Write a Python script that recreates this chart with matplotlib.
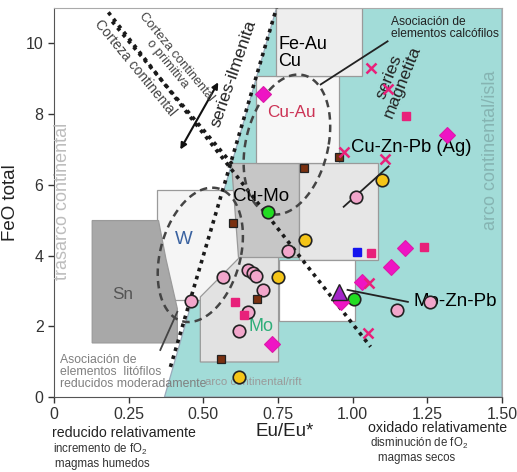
import numpy as np
import matplotlib
matplotlib.use("Agg")
import matplotlib.pyplot as plt
from matplotlib import font_manager
from matplotlib.patches import Polygon

plt.rcParams['font.family'] = ['Liberation Sans', 'DejaVu Sans']
plt.rcParams['mathtext.default'] = 'regular'

names = {f.name for f in font_manager.fontManager.ttflist}
NARROW = 'Liberation Sans Narrow' in names
narrow_fam = ['Liberation Sans Narrow', 'Liberation Sans'] if NARROW else ['Liberation Sans']
nscale = 1.0 if NARROW else 0.82

# --- samples (Eu/Eu*, FeO total) ---
pink_x = [0.46, 0.565, 0.65, 0.665, 0.675, 0.70, 0.65, 0.62, 0.785, 1.01, 1.15, 1.26]
pink_y = [2.72, 3.38, 3.58, 3.50, 3.42, 3.03, 2.41, 1.87, 4.12, 5.65, 2.46, 2.69]
yellow_x = [0.62, 0.75, 0.84, 1.10]
yellow_y = [0.57, 3.40, 4.45, 6.15]
green_x = [0.715, 1.003]
green_y = [5.22, 2.78]
diamond_x = [0.70, 1.315, 1.175, 1.13, 1.03, 0.96, 0.73]
diamond_y = [8.58, 7.42, 4.22, 3.68, 3.26, 2.69, 1.50]
tri_x = [0.955]
tri_y = [2.97]
psq_x = [1.18, 1.24, 1.06, 0.607, 0.635]
psq_y = [7.96, 4.25, 4.08, 2.69, 2.32]
blue_x = [1.013]
blue_y = [4.11]
brown_x = [0.836, 0.953, 0.60, 0.68, 0.56]
brown_y = [6.49, 6.78, 4.93, 2.78, 1.08]
cross_x = [1.06, 1.12, 0.97, 1.11, 1.055, 1.05]
cross_y = [9.30, 8.70, 6.93, 6.73, 3.22, 1.82]

# --- fields of the diagram ---
teal_field = [(0.37, 0), (0.745, 11), (1.5, 11), (1.5, 0)]
w_field = [(0.346, 2.75), (0.346, 5.86), (0.62, 5.86), (0.62, 2.75)]
sn_field = [(0.128, 1.53), (0.128, 4.99), (0.35, 4.99), (0.375, 3.9), (0.413, 2.5), (0.413, 1.53)]
mo_field = [(0.49, 0.99), (0.49, 2.83), (0.624, 3.97), (0.752, 3.97), (0.752, 0.99)]
cumo_field = [(0.594, 6.63), (0.819, 6.63), (0.819, 3.97), (0.617, 3.97)]
cuzn_field = [(0.819, 3.88), (0.819, 6.63), (1.084, 6.63), (1.084, 3.88)]
white_field = [(0.755, 2.15), (0.755, 3.88), (1.007, 3.88), (1.007, 2.15)]
cuau_field = [(0.678, 6.63), (0.678, 9.07), (0.953, 9.07), (0.953, 6.63)]
feau_field = [(0.745, 9.07), (0.745, 11.0), (1.03, 11.0), (1.03, 9.07)]

fig = plt.figure(figsize=(5.17, 4.72), dpi=100)
ax = fig.add_axes([0.1044, 0.1589, 0.8665, 0.824])
ax.set_xlim(0, 1.5)
ax.set_ylim(0, 11)

def field(pts, fc, ec='#9a9a9a', z=1):
    ax.add_patch(Polygon(pts, closed=True, facecolor=fc, edgecolor=ec, lw=0.9, zorder=z))

field(teal_field, '#a2dcd8', ec='#9ab', z=0.5)
field(w_field, '#f5f5f5')
field(sn_field, '#a8a8a8')
field(mo_field, '#e2e2e2')
field(cumo_field, '#c6c6c6')
field(cuzn_field, '#e6e6e6')
field(white_field, '#ffffff')
field(cuau_field, '#f7f7f7')
field(feau_field, '#eeeeee')

# dotted trend lines
dot = dict(color='#1a1a1a', lw=2.6, ls=(0, (1, 1.3)), zorder=3)
ax.plot([0.39, 0.745], [0.85, 11.0], **dot)
ax.plot([0.182, 1.06], [10.88, 1.42], **dot)
ax.plot([0.195, 0.6], [10.62, 6.55], **dot)

# dashed ellipses
t = np.linspace(0, 2 * np.pi, 200)
def ellipse(cx, cy, rx, ry, k):
    yy = cy + ry * np.sin(t)
    xx = cx + rx * np.cos(t) + k * (yy - cy)
    ax.plot(xx, yy, color='#444444', lw=1.8, ls=(0, (3, 2)), zorder=3)

ellipse(0.49, 4.02, 0.137, 1.9, 0.021)
ellipse(0.78, 7.14, 0.14, 1.98, 0.019)

# leader lines
ax.plot([1.117, 0.893], [10.06, 8.84], color='#222', lw=1.3, zorder=4)
ax.plot([1.185, 0.983], [2.69, 3.03], color='#222', lw=1.3, zorder=4)
ax.plot([0.97, 1.12], [5.38, 6.52], color='#222', lw=1.3, zorder=4)
ax.plot([0.356, 0.413], [1.33, 2.41], color='#444', lw=1.3, zorder=4)

ax.annotate('', xy=(0.55, 8.9), xytext=(0.423, 7.0),
            arrowprops=dict(arrowstyle='<|-|>', color='#111', lw=1.5,
                            mutation_scale=9, shrinkA=0, shrinkB=0), zorder=4)

# texts
ax.text(0.60, 5.67, 'Cu-Mo', fontsize=13.5, va='center', zorder=4)
ax.text(0.715, 8.05, 'Cu-Au', fontsize=12.3, color='#cc3355', va='center', zorder=4)
ax.text(0.752, 9.73, 'Fe-Au\nCu', fontsize=13, va='center', linespacing=1.0, zorder=4)
ax.text(0.651, 1.98, 'Mo', fontsize=13, color='#2fae7a', va='center', zorder=4)
ax.text(0.406, 4.45, 'W', fontsize=13.5, color='#3a62a0', va='center', zorder=4)
ax.text(0.195, 2.89, 'Sn', fontsize=12.3, color='#555555', va='center', zorder=4)
ax.text(0.993, 7.05, 'Cu-Zn-Pb (Ag)', fontsize=13.3, va='center', zorder=4)
ax.text(1.205, 2.69, 'Mo-Zn-Pb', fontsize=13.5, va='center', zorder=4)

ax.text(1.128, 10.44, 'Asociación de\nelementos calcófilos', fontsize=10.5 * nscale,
        family=narrow_fam, va='center', linespacing=1.05, color='#222', zorder=4)
ax.text(0.02, 0.71, 'Asociación de\nelementos  litófilos\nreducidos moderadamente',
        fontsize=10.8 * nscale, family=narrow_fam, va='center', linespacing=1.0,
        color='#7f7f7f', zorder=4)
ax.text(0.505, 0.42, 'arco continental/rift', fontsize=10 * nscale, family=narrow_fam,
        va='center', color='#9a9a9a', zorder=4)

ax.text(0.272, 9.30, 'Corteza continental', fontsize=10, rotation=-50.6,
        rotation_mode='anchor', ha='center', va='center', color='#444', zorder=4)
ax.text(0.396, 9.52, 'Corteza continental\no primitiva', fontsize=9.3, rotation=-50.6,
        rotation_mode='anchor', ha='center', va='center', color='#444',
        linespacing=1.0, zorder=4)
ax.text(0.602, 9.16, 'series-ilmenita', fontsize=12.5, rotation=71,
        rotation_mode='anchor', ha='center', va='center', color='#222', zorder=4)
ax.text(1.144, 8.98, 'series\nmagnetita', fontsize=12.5, rotation=68,
        rotation_mode='anchor', ha='center', va='center', color='#222',
        linespacing=0.95, zorder=4)
ax.text(0.027, 5.52, 'trasarco continental', fontsize=13, rotation=90,
        ha='center', va='center', color='#bdbdbd', zorder=4)
ax.text(1.463, 6.97, 'arco continental/isla', fontsize=13, rotation=90,
        ha='center', va='center', color='#86b4b2', zorder=4)

# samples
ax.plot(pink_x, pink_y, 'o', ms=9, mfc='#f2a6cb', mec='#222', mew=1.2, zorder=5)
ax.plot(yellow_x, yellow_y, 'o', ms=9, mfc='#f5c518', mec='#222', mew=1.2, zorder=5)
ax.plot(green_x, green_y, 'o', ms=9, mfc='#22dd22', mec='#222', mew=1.2, zorder=5)
ax.plot(diamond_x, diamond_y, 'D', ms=8, mfc='#ee14c4', mec='#dd1aa8', mew=0.8, zorder=5)
ax.plot(tri_x, tri_y, '^', ms=11, mfc='#a326c8', mec='#222', mew=1.0, zorder=6)
ax.plot(psq_x, psq_y, 's', ms=5.5, mfc='#e8207a', mec='#e8207a', zorder=5)
ax.plot(blue_x, blue_y, 's', ms=5.5, mfc='#1414ee', mec='#1414ee', zorder=5)
ax.plot(brown_x, brown_y, 's', ms=5.5, mfc='#7a3010', mec='#222', mew=0.9, zorder=5)
ax.plot(cross_x, cross_y, 'x', ms=6.5, mec='#e8207a', mew=1.8, zorder=5)

# axes styling
ax.set_xticks([0, 0.25, 0.5, 0.75, 1.0, 1.25, 1.5])
ax.set_xticklabels(['0', '0.25', '0.50', '0.75', '1.00', '1.25', '1.50'])
ax.set_yticks([0, 2, 4, 6, 8, 10])
ax.tick_params(labelsize=11.5, colors='#333', direction='out', length=4, width=1)
for s in ['top', 'right']:
    ax.spines[s].set_color('#aaaaaa')
    ax.spines[s].set_linewidth(0.8)
for s in ['left', 'bottom']:
    ax.spines[s].set_color('#555555')
ax.set_ylabel('FeO total', fontsize=13.5, color='#222')
ax.yaxis.set_label_coords(-0.078, 0.5)

fig.text(285 / 517, 1 - 431 / 472, 'Eu/Eu*', fontsize=13.5, ha='center', va='center', color='#222')
fig.text(52 / 517, 1 - 433 / 472, 'reducido relativamente', fontsize=10.2, va='center', color='#222')
fig.text(53 / 517, 1 - 449 / 472, 'incremento de fO$_2$', fontsize=8.3, va='center', color='#333')
fig.text(55 / 517, 1 - 464 / 472, 'magmas humedos', fontsize=8.3, va='center', color='#333')
fig.text(368 / 517, 1 - 428 / 472, 'oxidado relativamente', fontsize=10.2, va='center', color='#222')
fig.text(370 / 517, 1 - 443 / 472, 'disminución de fO$_2$', fontsize=8.3, va='center', color='#333')
fig.text(378 / 517, 1 - 458 / 472, 'magmas secos', fontsize=8.3, va='center', color='#333')

fig.savefig('out.png', dpi=100)
